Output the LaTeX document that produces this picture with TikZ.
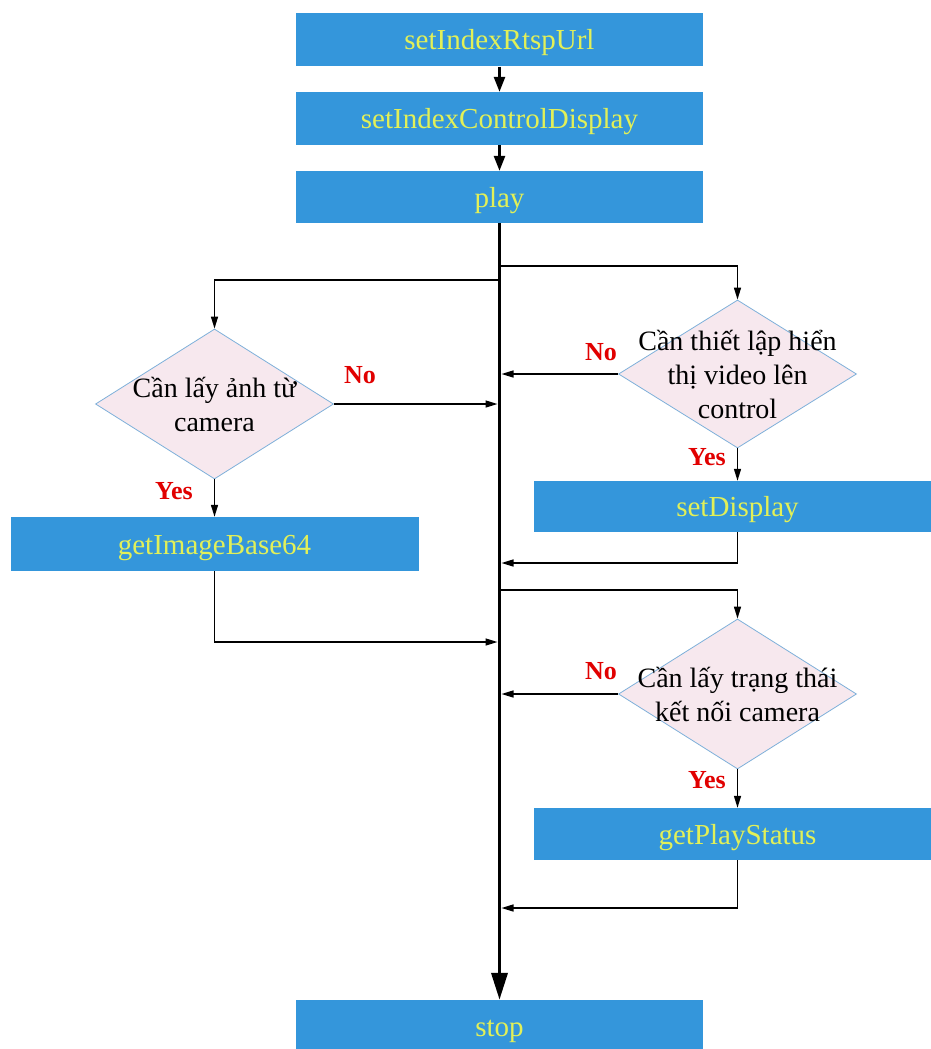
\documentclass[tikz,border=0pt]{standalone}
\usepackage{fontspec}
\setmainfont{Liberation Serif}
\usetikzlibrary{shapes.geometric,arrows.meta}
\definecolor{boxblue}{RGB}{52,150,219}
\definecolor{boxtext}{RGB}{226,240,88}
\definecolor{decfill}{RGB}{247,232,238}
\definecolor{decline}{RGB}{126,176,218}
\definecolor{tagred}{RGB}{225,0,0}
\begin{document}
\begin{tikzpicture}[x=1pt,y=-1pt,
  proc/.style={rectangle, fill=boxblue, text=boxtext, inner sep=0pt,
    minimum height=53pt, text height=20pt, text depth=0pt,
    font=\fontsize{29}{34}\selectfont},
  decision/.style={diamond, fill=decfill, draw=decline, line width=0.8pt,
    inner sep=0pt, minimum width=238pt, minimum height=150pt},
  dectext/.style={align=center, font=\fontsize{28}{34}\selectfont,
    text=black, inner sep=0pt},
  tag/.style={text=tagred, font=\bfseries\fontsize{26}{30}\selectfont, inner sep=0pt},
  flow/.style={line width=1.4pt, -{Triangle[length=12pt,width=7pt]}},
  link/.style={line width=2.6pt, -{Triangle[length=15pt,width=11pt]}},
  trunk/.style={line width=3.6pt, -{Triangle[length=27pt,width=16pt]}},
]
\useasboundingbox (0,0) rectangle (931,1049);
\clip (0,0) rectangle (931,1049);
\fill[white] (0,0) rectangle (931,1049);

% main sequence
\node[proc, minimum width=407pt] (rtsp) at (499.5,40) {setIndexRtspUrl};
\node[proc, minimum width=407pt] (ctrl) at (499.5,118.5) {setIndexControlDisplay};
\node[proc, minimum width=407pt, minimum height=52pt] (play) at (499.5,197) {play};
\node[proc, minimum width=407pt, minimum height=52pt] (stop) at (499.5,1026) {stop};

% decisions
\node[decision] (askimg) at (214.5,404) {};
\node[dectext] (askimgtext) at (askimg) {Cần lấy ảnh từ\\camera};
\node[decision, minimum height=148pt] (askdisp) at (737.5,374) {};
\node[dectext] (askdisptext) at (askdisp) {Cần thiết lập hiển\\thị video lên\\control};
\node[decision] (askstat) at (737.5,694) {};
\node[dectext] (askstattext) at (askstat) {Cần lấy trạng thái\\kết nối camera};

% actions (the right-hand boxes run past the right edge)
\node[proc, minimum width=408pt, minimum height=54pt] (img) at (214.5,544) {getImageBase64};
\node[proc, minimum width=407pt, minimum height=51pt] (disp) at (737.5,506.5) {setDisplay};
\node[proc, minimum width=407pt, minimum height=52pt] (stat) at (737.5,834) {getPlayStatus};

% points on the trunk
\coordinate (forkdisp) at (499.5,266);
\coordinate (forkimg) at (499.5,280);
\coordinate (joindispno) at (501.5,374);
\coordinate (joinimgno) at (497.5,404);
\coordinate (joindisp) at (501.5,563);
\coordinate (forkstat) at (499.5,590);
\coordinate (joinimg) at (497.5,642);
\coordinate (joinstatno) at (501.5,694);
\coordinate (joinstat) at (501.5,908);

% connectors
\draw[link] (rtsp) -- (ctrl);
\draw[link] (ctrl) -- (play);
\draw[flow] (forkdisp) -| (askdisp.north);
\draw[flow] (forkimg) -| (askimg.north);
\draw[flow] (askimg.east) -- (joinimgno);
\draw[flow] (askdisp.west) -- (joindispno);
\draw[flow] (askdisp.south) -- (disp.north);
\draw[flow] (disp.south) |- (joindisp);
\draw[flow] (askimg.south) -- (img.north);
\draw[flow] (img.south) |- (joinimg);
\draw[flow] (forkstat) -| (askstat.north);
\draw[flow] (askstat.west) -- (joinstatno);
\draw[flow] (askstat.south) -- (stat.north);
\draw[flow] (stat.south) |- (joinstat);
\draw[trunk] (play.south) -- (stop.north);

% branch labels
\node[tag] (noimg) at (360,375) {No};
\node[tag] (nodisp) at (601,352) {No};
\node[tag] (yesdisp) at (707,457) {Yes};
\node[tag] (yesimg) at (174,491) {Yes};
\node[tag] (nostat) at (601,671) {No};
\node[tag] (yesstat) at (707,780) {Yes};
\end{tikzpicture}
\end{document}
